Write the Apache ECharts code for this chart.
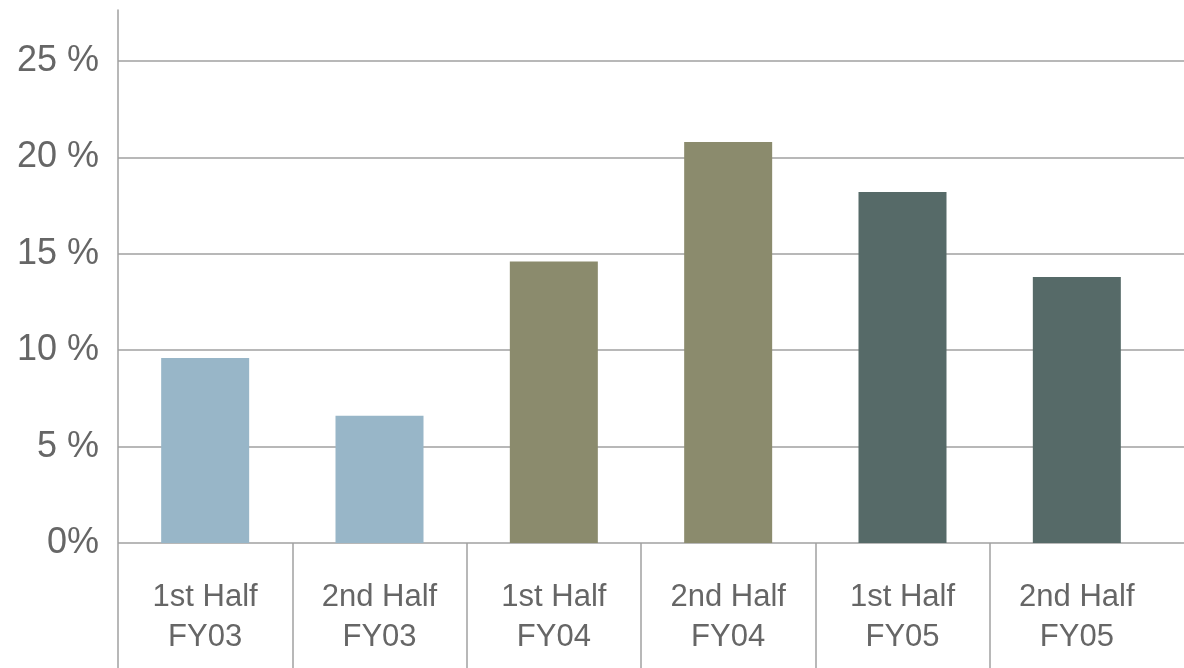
<!DOCTYPE html>
<html>
<head>
<meta charset="utf-8">
<script src="https://cdn.jsdelivr.net/npm/echarts@6/dist/echarts.min.js"></script>
<style>
html,body{margin:0;padding:0;background:#fff;}
#c{width:1184px;height:668px;}
</style>
</head>
<body>
<div id="c"></div>
<script>
const categories = ['1st Half\nFY03', '2nd Half\nFY03', '1st Half\nFY04', '2nd Half\nFY04', '1st Half\nFY05', '2nd Half\nFY05'];
const values = [9.6, 6.6, 14.6, 20.8, 18.2, 13.8];
const barColors = ['#98b6c8', '#98b6c8', '#8b8b6d', '#8b8b6d', '#566a68', '#566a68'];
const yTickLabels = {0: '0%', 5: '5 %', 10: '10 %', 15: '15 %', 20: '20 %', 25: '25 %'};

const FONT = 'Liberation Sans, Arial, Helvetica, sans-serif';
const TXT = '#666666';
const LINE = '#a0a0a0';

const chart = echarts.init(document.getElementById('c'), null, {renderer: 'canvas'});
chart.setOption({
  backgroundColor: '#ffffff',
  animation: false,
  grid: [
    {left: 118, right: 20, top: 61, bottom: 125, containLabel: false},
    {left: 118, right: 0, top: 61, bottom: 125, containLabel: false},
    {left: 118, right: 0, top: 10, bottom: 0, containLabel: false},
    {left: 118, right: 20, top: 543, bottom: 0, containLabel: false}
  ],
  xAxis: [
    {
      gridIndex: 0, type: 'category', data: categories, boundaryGap: true,
      axisLine: {show: false}, axisTick: {show: false}, splitLine: {show: false},
      axisLabel: {
        margin: 34, color: TXT, fontSize: 31, fontFamily: FONT, lineHeight: 40,
        interval: 0
      }
    },
    {gridIndex: 1, type: 'value', min: 0, max: 1, show: false},
    {gridIndex: 2, type: 'value', min: 0, max: 1, show: false},
    {
      gridIndex: 3, type: 'value', min: 0, max: 6, interval: 1,
      axisLine: {show: false}, axisTick: {show: false}, axisLabel: {show: false},
      splitLine: {show: true, showMinLine: false, showMaxLine: false, lineStyle: {color: LINE, width: 1.5}}
    }
  ],
  yAxis: [
    {
      gridIndex: 0, type: 'value', min: 0, max: 25, interval: 5,
      axisLine: {show: false}, axisTick: {show: false}, splitLine: {show: false},
      axisLabel: {
        margin: 19, color: TXT, fontSize: 36, fontFamily: FONT,
        formatter: v => yTickLabels[v] !== undefined ? yTickLabels[v] : ''
      }
    },
    {
      gridIndex: 1, type: 'value', min: 0, max: 25, interval: 5,
      axisLine: {show: false}, axisTick: {show: false}, axisLabel: {show: false},
      splitLine: {show: true, lineStyle: {color: LINE, width: 1.5}}
    },
    {
      gridIndex: 2, type: 'value', min: 0, max: 1,
      axisLine: {show: true, lineStyle: {color: LINE, width: 1.5}},
      axisTick: {show: false}, axisLabel: {show: false}, splitLine: {show: false}
    },
    {gridIndex: 3, type: 'value', min: 0, max: 1, show: false}
  ],
  series: [
    {
      type: 'bar', xAxisIndex: 0, yAxisIndex: 0,
      barWidth: 88,
      data: values.map((v, i) => ({value: v, itemStyle: {color: barColors[i]}})),
      z: 5
    }
  ]
});
</script>
</body>
</html>
